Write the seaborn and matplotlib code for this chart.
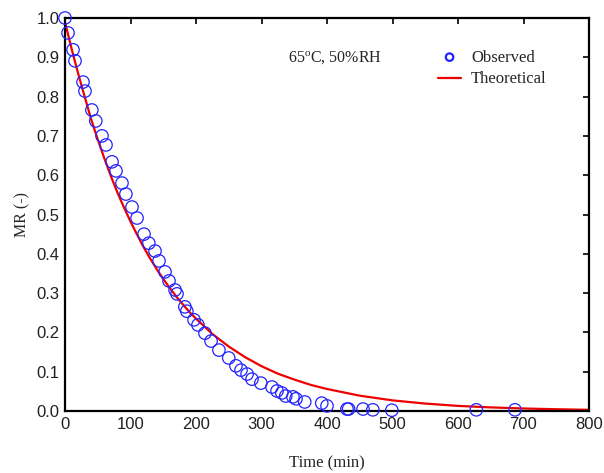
import numpy as np
import pandas as pd
import matplotlib
matplotlib.use("Agg")
import matplotlib.pyplot as plt
import seaborn as sns

obs_time = [0, 4.6, 12.2, 15.3, 27.5, 30.5, 41, 47, 56.5, 62.6, 71.8, 77.9, 87, 93,
            102.3, 110, 120.6, 128, 137.4, 143.5, 152.7, 158.8, 168, 171, 183, 186,
            197, 203, 213.7, 223, 235, 250, 261, 268.7, 278, 285.5, 299, 316, 323.7,
            331, 337, 348, 352.7, 366, 392, 400, 430.5, 433, 455, 470, 499, 628, 687]
obs_mr = [1.0, 0.962, 0.919, 0.891, 0.837, 0.814, 0.766, 0.738, 0.700, 0.677, 0.634,
          0.611, 0.580, 0.552, 0.519, 0.491, 0.450, 0.427, 0.407, 0.382, 0.354, 0.331,
          0.308, 0.298, 0.265, 0.254, 0.232, 0.219, 0.198, 0.178, 0.155, 0.135, 0.115,
          0.104, 0.094, 0.081, 0.071, 0.061, 0.051, 0.046, 0.038, 0.036, 0.031, 0.023,
          0.020, 0.013, 0.005, 0.005, 0.005, 0.003, 0.002, 0.003, 0.003]

# Theoretical curve
theo_time = [0, 10, 20, 30, 40, 50, 60, 70, 80, 90, 100, 110, 120, 130, 140, 150,
             160, 170, 180, 190, 200, 225, 250, 275, 300, 325, 350, 375, 400, 450,
             500, 550, 600, 650, 700, 750, 800]
theo_mr = [0.990, 0.922, 0.859, 0.800, 0.742, 0.691, 0.643, 0.598, 0.556, 0.518,
           0.482, 0.449, 0.417, 0.388, 0.361, 0.336, 0.313, 0.291, 0.271, 0.252,
           0.235, 0.196, 0.164, 0.137, 0.114, 0.095, 0.080, 0.0665, 0.056, 0.039,
           0.027, 0.0189, 0.013, 0.0092, 0.0064, 0.0045, 0.003]

x_ticks = [0, 100, 200, 300, 400, 500, 600, 700, 800]
y_ticks = [0.0, 0.1, 0.2, 0.3, 0.4, 0.5, 0.6, 0.7, 0.8, 0.9, 1.0]

sns.set_theme(style="white")
plt.rcParams['font.family'] = ['Liberation Sans Narrow', 'Liberation Sans', 'DejaVu Sans']
plt.rcParams['mathtext.fontset'] = 'custom'
plt.rcParams['mathtext.rm'] = 'Liberation Serif'
plt.rcParams['mathtext.it'] = 'Liberation Serif:italic'

obs = pd.DataFrame({"Time": obs_time, "MR": obs_mr})
theo = pd.DataFrame({"Time": theo_time, "MR": theo_mr})

fig = plt.figure(figsize=(6.04, 4.73), dpi=100)
ax = fig.add_axes([65/604, 1 - 411/473, (589-65)/604, (411-18)/473])

sns.lineplot(data=theo, x="Time", y="MR", ax=ax, color="#ee0000", linewidth=1.6,
             label="Theoretical", zorder=2)
sns.scatterplot(data=obs, x="Time", y="MR", ax=ax, marker="o", s=80,
                facecolors="none", edgecolor="#2222ff", linewidth=0.9,
                label="Observed", zorder=3, clip_on=False)

ax.set_xlim(0, 800)
ax.set_ylim(0, 1.0)
ax.set_xticks(x_ticks)
ax.set_yticks(y_ticks)
ax.set_xticklabels([str(v) for v in x_ticks])
ax.set_yticklabels([f"{v:.1f}" for v in y_ticks])
ax.tick_params(direction="in", length=4, width=1.2, top=True, right=True,
               labelsize=12, colors="black", pad=4)
for lab in ax.get_xticklabels() + ax.get_yticklabels():
    lab.set_color("#222222")
for sp in ax.spines.values():
    sp.set_visible(True)
    sp.set_color("black")
    sp.set_linewidth(1.6)

ax.set_xlabel("Time (min)", family="Liberation Serif", fontsize=12, labelpad=17)
ax.set_ylabel("MR (-)", family="Liberation Serif", fontsize=11.5, labelpad=4)

ax.text(0.515, 0.899, r"65$^{\mathrm{o}}$C, 50%RH", transform=ax.transAxes,
        family="Liberation Serif", fontsize=11.5, ha="center", va="center")

handles, labels = ax.get_legend_handles_labels()
order = [labels.index("Observed"), labels.index("Theoretical")]
leg = ax.legend([handles[i] for i in order], [labels[i] for i in order],
                loc="upper left", bbox_to_anchor=(0.683, 0.958), frameon=False,
                prop={"family": "Liberation Serif", "size": 12},
                handlelength=1.4, handletextpad=0.6, labelspacing=0.35,
                markerscale=0.6)
for h in leg.legend_handles:
    try:
        h.set_linewidth(1.6)
    except Exception:
        pass

fig.savefig("out.png", dpi=100)
